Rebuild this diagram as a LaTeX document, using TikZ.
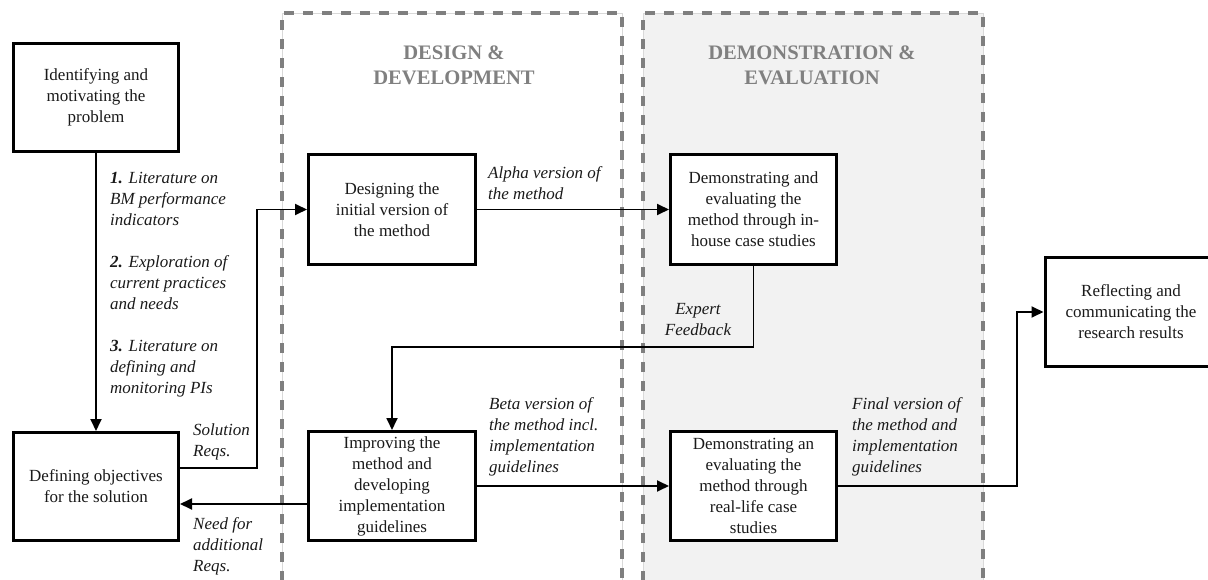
\documentclass[tikz,border=0pt]{standalone}
\usepackage{fontspec}
\setmainfont{Liberation Serif}
\usetikzlibrary{arrows.meta}
\definecolor{colbg}{HTML}{F2F2F2}
\definecolor{dashgray}{HTML}{7F7F7F}
\definecolor{thinline}{HTML}{D9D9D9}
\definecolor{hdrgray}{HTML}{808080}
\definecolor{txt}{HTML}{1A1A1A}
\begin{document}
\begin{tikzpicture}[x=1pt,y=-1pt,
  box/.style={draw=black, line width=3pt, fill=white, inner sep=0pt, align=center,
    font=\fontsize{17}{21}\selectfont, text=txt},
  lbl/.style={inner sep=0pt, align=left, anchor=west,
    font=\fontsize{17}{21}\selectfont\itshape, text=txt},
  clbl/.style={inner sep=0pt, align=center,
    font=\fontsize{17}{21}\selectfont\itshape, text=txt},
  hdr/.style={inner sep=0pt, align=center,
    font=\fontsize{20.6}{25}\selectfont\bfseries, text=hdrgray},
  conn/.style={line width=1.8pt, draw=black},
  arr/.style={conn, -{Triangle[length=12pt,width=11pt]}},
  thin/.style={draw=thinline, line width=0.8pt},
  dashln/.style={draw=dashgray, line width=3.3pt, dash pattern=on 10pt off 9pt}]

\useasboundingbox (0,0) rectangle (1208,580);

% columns
\path[fill=colbg] (643,13) rectangle (983,600);
\draw[thin] (282,13) rectangle (622,600);
\draw[thin] (643,13) rectangle (983,600);
\draw[dashln] (282,600) -- (282,13) -- (622,13) -- (622,600);
\draw[dashln] (643,600) -- (643,13) -- (983,13) -- (983,600);

% headers
\node[hdr] (h1) at (454,65.5) {DESIGN \&\\DEVELOPMENT};
\node[hdr] (h2) at (812,65.5) {DEMONSTRATION \&\\EVALUATION};

% boxes
\node[box, minimum width=165pt, minimum height=108pt] (ident) at (96,97.5)
  {Identifying and\\motivating the\\problem};
\node[box, minimum width=165pt, minimum height=108pt] (defin) at (96,486.5)
  {Defining objectives\\for the solution};
\node[box, minimum width=167pt, minimum height=110pt] (design) at (392,209.5)
  {Designing the\\initial version of\\the method};
\node[box, minimum width=166pt, minimum height=110pt] (demo1) at (753.5,209.5)
  {Demonstrating and\\evaluating the\\method through in-\\house case studies};
\node[box, minimum width=167pt, minimum height=109pt] (improv) at (392,486)
  {Improving the\\method and\\developing\\implementation\\guidelines};
\node[box, minimum width=166pt, minimum height=109pt] (demo2) at (753.5,486)
  {Demonstrating an\\evaluating the\\method through\\real-life case\\studies};
\node[box, minimum width=172pt, minimum height=109pt] (reflect) at (1131,312)
  {Reflecting and\\communicating the\\research results};

% helper coordinates
\coordinate (sreq) at (257,468);
\coordinate (ef) at (0,347);
\coordinate (nr) at (0,504);
\coordinate (fv) at (1017,0);

% connectors
\draw[arr] (ident) -- (defin);
\draw[arr] (defin.east |- sreq) -- (sreq) |- (design.west);
\draw[arr] (design) -- (demo1);
\draw[arr] (demo1.south) -- (demo1.south |- ef) -- (improv.north |- ef) -- (improv.north);
\draw[arr] (improv.west |- nr) -- (defin.east |- nr);
\draw[arr] (improv) -- (demo2);
\draw[arr] (demo2.east) -- (demo2.east -| fv) |- (reflect.west);

% labels
\node[lbl] (l1) at (110,285) {\textbf{1.} Literature on\\BM performance\\indicators\\[21pt]\textbf{2.} Exploration of\\current practices\\and needs\\[21pt]\textbf{3.} Literature on\\defining and\\monitoring PIs};
\node[lbl] (l2) at (193,441.5) {Solution\\Reqs.};
\node[lbl] (l3) at (193,546) {Need for\\additional\\Reqs.};
\node[lbl] (l4) at (488,183) {Alpha version of\\the method};
\node[clbl] (l5) at (698,319.5) {Expert\\Feedback};
\node[lbl] (l6) at (489,436.5) {Beta version of\\the method incl.\\implementation\\guidelines};
\node[lbl] (l7) at (852,436.5) {Final version of\\the method and\\implementation\\guidelines};
\end{tikzpicture}
\end{document}
